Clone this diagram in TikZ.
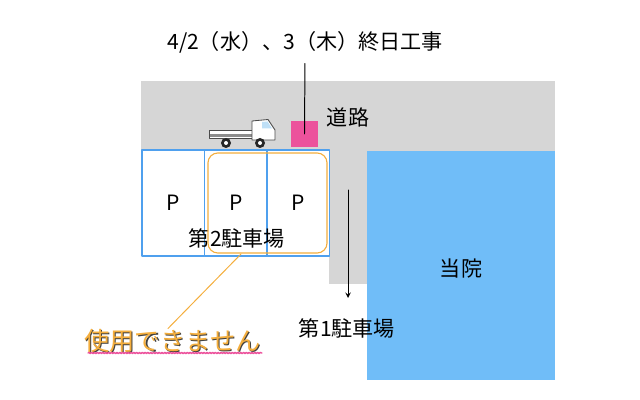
\documentclass[tikz,border=0pt]{standalone}
\usepackage{fontspec}
\setmainfont{Noto Sans CJK JP}
\usetikzlibrary{decorations.pathmorphing}
\definecolor{road}{HTML}{D6D6D6}
\definecolor{hospital}{HTML}{70BDF8}
\definecolor{lotline}{HTML}{4FA0EE}
\definecolor{warn}{HTML}{F4AE3D}
\definecolor{pinkmark}{HTML}{EC529C}
\definecolor{glass}{HTML}{BFE0F7}
\begin{document}
\begin{tikzpicture}[x=0.025cm,y=-0.025cm,>=stealth, font=\fontsize{15}{18}\selectfont, line join=round, line cap=round,
	lot/.style={draw=lotline, line width=0.8pt, fill=white, minimum width=1.5625cm, minimum height=2.65cm, inner sep=0pt},
	warnbox/.style={draw=warn, line width=0.8pt, rounded corners=7pt, minimum width=2.975cm, minimum height=2.5cm}]
	\useasboundingbox (0,0) rectangle (640,400);
	% road and building
	\fill[road] (141,81) rectangle (555,151);
	\fill[road] (329,151) rectangle (367,284);
	\fill[hospital] (367,151) rectangle (555,380);
	\node (hosp) at (461,268) {当院};
	% second lot
	\foreach \i in {1,2,3} \node[lot] (p\i) at ({110.75+62.5*\i},203) {P};
	\node (lot2) at (237,238) {第2駐車場};
	\node[warnbox] (closed) at (267.5,203) {};
	% truck
	\draw[draw=black!70, fill=white, line width=0.6pt] (209,130) rectangle (253,138);
	\fill[black!45] (210,134.5) rectangle (252,137.5);
	\draw[draw=black!70, fill=white, line width=0.6pt] (252,140) -- (252,121) -- (268,119.5) -- (273,127) -- (275,130) -- (275,140) -- cycle;
	\fill[glass] (262,122) -- (267.5,121.5) -- (272,128.5) -- (262,128.5) -- cycle;
	\foreach \x in {226,260} {
		\fill[black!85] (\x,143) circle (5);
		\fill[white] (\x,143) circle (2);
	}
	% works
	\fill[pinkmark] (291,121) rectangle (318,147);
	\coordinate (works) at (304.5,134);
	\node (title) at (305,42) {4/2（水）、3（木）終日工事};
	\draw[line width=0.7pt, shorten <=4pt] (title.south) -- (works);
	\node (road) at (348,117) {道路};
	% way to first lot
	\coordinate (a1) at (348,190); \coordinate (a2) at (348,298);
	\draw[->, line width=0.7pt] (a1) -- (a2);
	\node (lot1) at (347,328) {第1駐車場};
	% not available
	\node[text=black!75, font=\fontsize{18}{20}\selectfont, inner sep=0pt] (shade) at (173.6,341.6) {使用できません};
	\node[text=warn, font=\fontsize{18}{20}\selectfont, inner sep=0pt] (unusable) at (172.5,340.5) {使用できません};
	\coordinate (tip) at (241,254);
	\draw[warn, line width=0.7pt] (tip) -- (unusable.north -| 168,0);
	\draw[pinkmark, line width=1pt, decorate, decoration={snake, amplitude=0.5pt, segment length=2pt}] (88,353) -- (262,353);
\end{tikzpicture}
\end{document}
